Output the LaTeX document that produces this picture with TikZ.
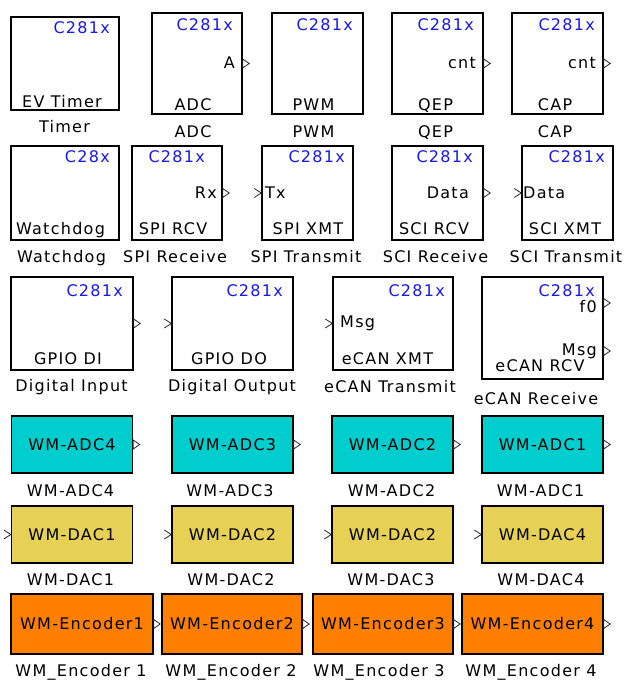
\documentclass[tikz,border=0pt]{standalone}
\usepackage{fontspec}
\newfontfamily\simfont{DejaVu Sans}[LetterSpace=8]
\definecolor{TagBlue}{RGB}{25,25,235}
\definecolor{AdcCyan}{RGB}{0,206,206}
\definecolor{DacYellow}{RGB}{230,208,85}
\definecolor{EncOrange}{RGB}{255,128,0}
\definecolor{PortGrey}{RGB}{40,40,40}

\begin{document}
\begin{tikzpicture}[x=1pt, y=-1pt,
    font=\simfont\fontsize{16}{18}\selectfont,
    blk/.style={draw, line width=1.4pt, inner sep=0pt},
    chiptag/.style={TagBlue, anchor=base east, inner sep=0pt},
    txt/.style={anchor=base, inner sep=0pt},
    outlbl/.style={anchor=base east, inner sep=0pt},
    inlbl/.style={anchor=base west, inner sep=0pt},
    portln/.style={line width=0.8pt, PortGrey},
    oport/.pic={\draw[portln] (0,-4.5) -- (6.5,0) -- (0,4.5) -- cycle;},
    iport/.pic={\draw[portln] (-7,-4.5) -- (0,0) -- (-7,4.5);}
  ]
  \fill[white] (0,0) rectangle (629,680);
  \useasboundingbox (0,0) rectangle (629,680);

  % row 1: timer, adc, pwm, qep, cap
  \node[blk, minimum width=108pt, minimum height=93pt]  (tmr) at (65,63.5) {};
  \node[blk, minimum width=90pt,  minimum height=101pt] (adc) at (197,63.5) {};
  \node[blk, minimum width=91pt,  minimum height=101pt] (pwm) at (317.5,63.5) {};
  \node[blk, minimum width=91pt,  minimum height=101pt] (qep) at (437.5,63.5) {};
  \node[blk, minimum width=91pt,  minimum height=101pt] (cap) at (557.5,63.5) {};

  % row 2: watchdog, spi, sci
  \node[blk, minimum width=108pt, minimum height=94pt] (wdg)    at (65,193) {};
  \node[blk, minimum width=90pt,  minimum height=94pt] (spircv) at (177,193) {};
  \node[blk, minimum width=91pt,  minimum height=94pt] (spixmt) at (307.5,193) {};
  \node[blk, minimum width=91pt,  minimum height=94pt] (scircv) at (437.5,193) {};
  \node[blk, minimum width=91pt,  minimum height=94pt] (scixmt) at (567.5,193) {};

  % row 3: gpio, ecan
  \node[blk, minimum width=122pt, minimum height=93pt]  (gpdi)   at (72,323.5) {};
  \node[blk, minimum width=121pt, minimum height=93pt]  (gpdo)   at (232.5,323.5) {};
  \node[blk, minimum width=120pt, minimum height=93pt]  (canxmt) at (393,323.5) {};
  \node[blk, minimum width=121pt, minimum height=102pt] (canrcv) at (542.5,328) {};

  % chip tags
  \foreach \b/\t/\x/\y in {tmr/C281x/110/33, adc/C281x/233/30, pwm/C281x/353/30,
      qep/C281x/474/30, cap/C281x/595/30, wdg/C28x/110/162, spircv/C281x/205/162,
      spixmt/C281x/345/162, scircv/C281x/473/162, scixmt/C281x/605/162,
      gpdi/C281x/123/296, gpdo/C281x/283/296, canxmt/C281x/445/296, canrcv/C281x/595/296}
    \node[chiptag] (\b-tag) at (\x,\y) {\t};

  % names inside the blocks
  \foreach \b/\t/\x/\y in {tmr/EV Timer/62/107, adc/ADC/193/110, pwm/PWM/313.5/110,
      qep/QEP/435.5/110, cap/CAP/555/110, wdg/Watchdog/60.5/234, spircv/SPI RCV/173/234,
      spixmt/SPI XMT/308/234, scircv/SCI RCV/434/234, scixmt/SCI XMT/565/234,
      gpdi/GPIO DI/68/364, gpdo/GPIO DO/229/364, canxmt/eCAN XMT/387.5/364,
      canrcv/eCAN RCV/540/371}
    \node[txt] (\b-name) at (\x,\y) {\t};

  % captions
  \foreach \b/\t/\x/\y in {tmr/Timer/64.5/132, adc/ADC/193/137, pwm/PWM/313.5/137,
      qep/QEP/435.5/137, cap/CAP/555/137, wdg/Watchdog/61.5/262,
      spircv/SPI Receive/175/262, spixmt/SPI Transmit/306/262,
      scircv/SCI Receive/435.5/262, scixmt/SCI Transmit/566/262,
      gpdi/Digital Input/71.5/391, gpdo/Digital Output/232/391,
      canxmt/eCAN Transmit/390/392, canrcv/eCAN Receive/536/404}
    \node[txt] (\b-cap) at (\x,\y) {\t};

  % port labels
  \node[outlbl] (adc-a)    at (235,68)  {A};
  \node[outlbl] (qep-cnt)  at (476,68)  {cnt};
  \node[outlbl] (cap-cnt)  at (596,68)  {cnt};
  \node[outlbl] (spircv-rx) at (217,198) {Rx};
  \node[outlbl] (scircv-data) at (469,198) {Data};
  \node[outlbl] (canrcv-f) at (597,312.5) {f0};
  \node[outlbl] (canrcv-msg) at (597,355) {Msg};
  \node[inlbl]  (spixmt-tx) at (265,198) {Tx};
  \node[inlbl]  (scixmt-data) at (523,198) {Data};
  \node[inlbl]  (canxmt-msg) at (340,327) {Msg};

  % ports
  \foreach \b in {adc, qep, cap, spircv, scircv, gpdi}
    \pic at (\b.east) {oport};
  \foreach \b in {spixmt, scixmt, gpdo, canxmt}
    \pic at (\b.west) {iport};
  \pic at ([shift={(0,-25)}]canrcv.east) {oport};
  \pic at ([shift={(0,23)}]canrcv.east) {oport};

  % row 4: adc channels
  \foreach \k/\cx/\cc in {4/72/70.5, 3/232.5/230, 2/392.5/391.5, 1/542.5/540.5} {
    \node[blk, fill=AdcCyan, minimum width=121pt, minimum height=57pt] (wadc\k) at (\cx,444.5) {WM-ADC\k};
    \node[txt] (wadc\k-cap) at (\cc,496) {WM-ADC\k};
    \pic at (wadc\k.east) {oport};
  }

  % row 5: dac channels
  \foreach \k/\cx/\m in {1/72/1, 2/232.5/2, 3/392.5/2, 4/542.5/4} {
    \node[blk, fill=DacYellow, minimum width=121pt, minimum height=57pt] (wdac\k) at (\cx,534.5) {WM-DAC\m};
    \node[txt] (wdac\k-cap) at (\cx-1.5,585) {WM-DAC\k};
    \pic at (wdac\k.west) {iport};
  }

  % row 6: encoders
  \foreach \k/\cx/\w/\cc in {1/82/142/81, 2/232/140/231, 3/383/140/379, 4/532.5/141/531} {
    \node[blk, fill=EncOrange, minimum width=\w pt, minimum height=60pt] (wenc\k) at (\cx,624) {WM-Encoder\k};
    \node[txt] (wenc\k-cap) at (\cc,676) {WM\_Encoder \k};
    \pic at (wenc\k.east) {oport};
  }
\end{tikzpicture}
\end{document}
